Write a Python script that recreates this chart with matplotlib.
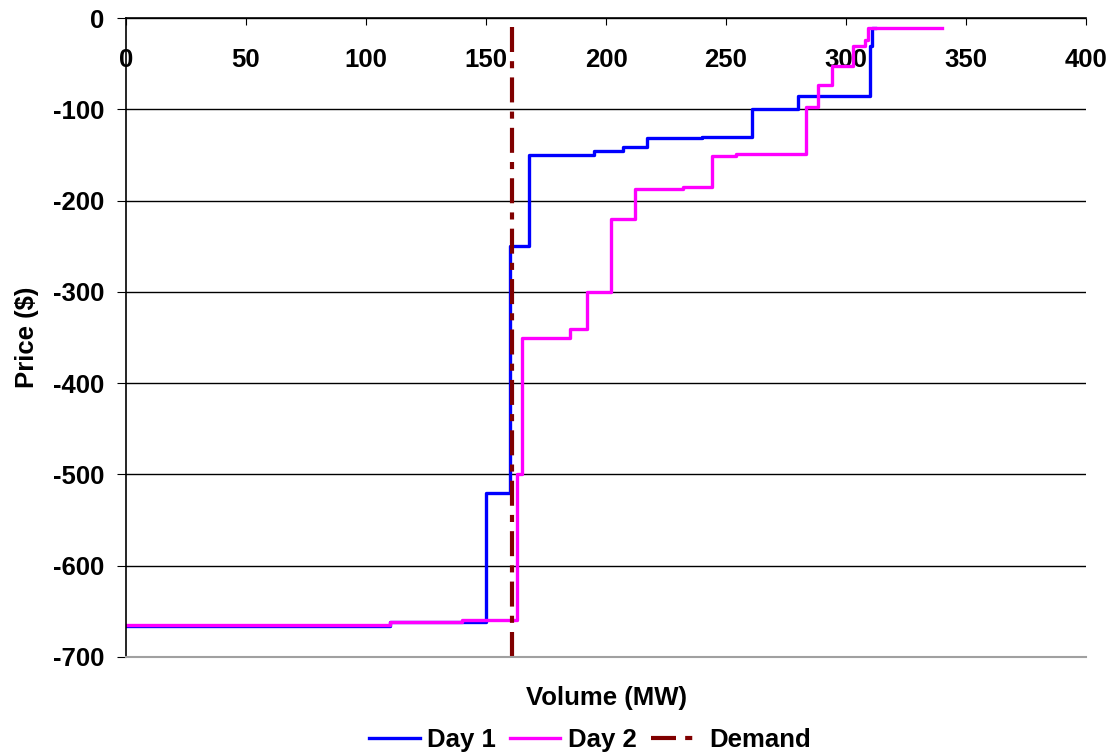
import matplotlib
matplotlib.use("Agg")
import matplotlib.pyplot as plt

# step curves: volume where each price level starts (MW), price level ($)
day1_volume = [0, 110, 150, 160, 168, 195, 207, 217, 240, 261, 280, 310, 311, 312]
day1_price = [-666, -662, -520, -250, -150, -146, -141, -131, -130, -100, -85, -31, -11, -11]

day2_volume = [0, 110, 140, 163, 165, 185, 192, 202, 212, 232, 244, 254, 283.5,
               288.5, 294, 303, 308, 309, 340]
day2_price = [-665, -662, -660, -500, -350, -341, -300, -220, -187, -185, -151, -149, -98,
              -73, -53, -31, -24, -11, -11]

demand_volume = 161

x_ticks = [0, 50, 100, 150, 200, 250, 300, 350, 400]
y_ticks = [0, -100, -200, -300, -400, -500, -600, -700]

plt.rcParams['font.family'] = ['Liberation Sans', 'DejaVu Sans']
plt.rcParams['font.weight'] = 'bold'
plt.rcParams['axes.labelweight'] = 'bold'
plt.rcParams['axes.unicode_minus'] = False
plt.rcParams['font.size'] = 18.5

fig = plt.figure(figsize=(11.19, 7.55), dpi=100)
ax = fig.add_axes([126 / 1119, 1 - 657 / 755, 960 / 1119, 639 / 755])

ax.step(day1_volume, day1_price, where='post', color='#0000ff', lw=2.4, label='Day 1')
ax.step(day2_volume, day2_price, where='post', color='#ff00ff', lw=2.4, label='Day 2')
ax.axvline(demand_volume, color='#800000', lw=3, linestyle=(0, (6, 2.2, 1.7, 2.2)),
           label='Demand')

ax.set_xlim(0, 400)
ax.set_ylim(-700, 0)
ax.set_xticks(x_ticks)
ax.set_yticks(y_ticks)

ax.yaxis.grid(True, color='black', lw=1)
ax.set_axisbelow(True)

ax.spines['right'].set_visible(False)
ax.spines['bottom'].set_color('#a0a0a0')
ax.spines['bottom'].set_linewidth(1.5)
ax.spines['top'].set_linewidth(1.2)
ax.spines['left'].set_linewidth(1.2)

ax.tick_params(axis='x', top=True, bottom=False, labeltop=True, labelbottom=False,
               direction='in', length=5, pad=-39)
ax.tick_params(axis='y', direction='out', length=6.5, pad=9)

ax.set_xlabel('Volume (MW)', labelpad=21)
ax.set_ylabel('Price ($)', labelpad=10)

fig.legend(loc='center', bbox_to_anchor=(590 / 1119, 1 - 740 / 755), ncol=3,
           frameon=False, handlelength=1.95, handletextpad=0.3, columnspacing=0.55)

fig.savefig('out.png', dpi=100)
